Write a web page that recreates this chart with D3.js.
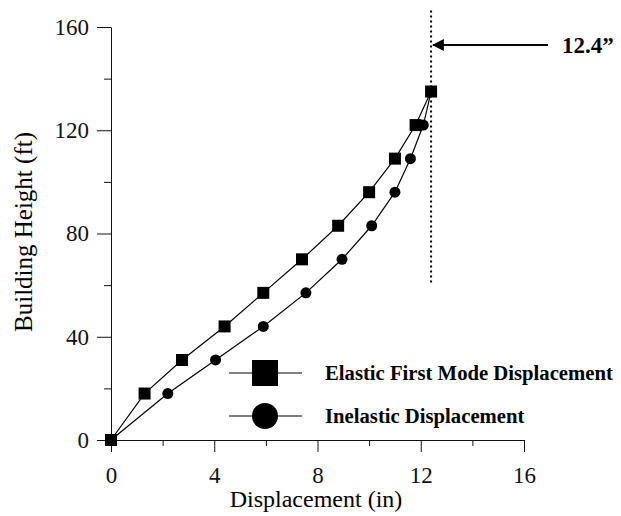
<!DOCTYPE html>
<html>
<head>
<meta charset="utf-8">
<script src="https://cdn.jsdelivr.net/npm/d3@7"></script>
<style>
  body { margin: 0; background: #fff; }
  svg { font-family: "Liberation Serif", "Times New Roman", serif; }
  .axis path, .axis line { stroke: #111; }
  .axis text { font-family: "Liberation Serif", "Times New Roman", serif; font-size: 23px; fill: #111; }
</style>
</head>
<body>
<svg id="chart" width="621" height="516"></svg>
<script>
// floor heights (ft)
var heights = [0, 18, 31, 44, 57, 70, 83, 96, 109, 122, 135];
// displacement (in) for each floor
var elastic   = [0, 1.3, 2.75, 4.4, 5.9, 7.4, 8.8, 10.0, 11.0, 11.8, 12.4];
var inelastic = [0, 2.2, 4.05, 5.9, 7.55, 8.95, 10.1, 11.0, 11.6, 12.1, 12.4];
var xTicks = [0, 4, 8, 12, 16];
var xMinor = [2, 6, 10, 14];
var yTicks = [0, 40, 80, 120, 160];
var yMinor = [20, 60, 100, 140];
var maxDisp = 12.4;
var markerLine = [61, 167]; // height span of dotted line
var seriesNames = ['Elastic First Mode Displacement', 'Inelastic Displacement'];

var svg = d3.select('#chart');

var x = d3.scaleLinear().domain([0, 16]).range([111, 524]);
var y = d3.scaleLinear().domain([0, 160]).range([440, 27]);

// --- axes
svg.append('g')
    .attr('class', 'axis')
    .attr('transform', 'translate(0,' + y(0) + ')')
    .call(d3.axisBottom(x).tickValues(xTicks).tickSize(12).tickSizeOuter(0))
    .call(function(g) { g.selectAll('text').attr('y', 43).attr('dy', 0); });
svg.append('g')
    .attr('class', 'axis')
    .attr('transform', 'translate(0,' + y(0) + ')')
    .call(d3.axisBottom(x).tickValues(xMinor).tickSize(6).tickFormat(''))
    .call(function(g) { g.select('.domain').remove(); });

svg.append('g')
    .attr('class', 'axis')
    .attr('transform', 'translate(' + x(0) + ',0)')
    .call(d3.axisLeft(y).tickValues(yTicks).tickSize(14).tickSizeOuter(0).tickPadding(8));
svg.append('g')
    .attr('class', 'axis')
    .attr('transform', 'translate(' + x(0) + ',0)')
    .call(d3.axisLeft(y).tickValues(yMinor).tickSize(7).tickFormat(''))
    .call(function(g) { g.select('.domain').remove(); });

// axis titles
svg.append('text')
    .attr('x', 316)
    .attr('y', 507)
    .attr('text-anchor', 'middle')
    .style('font-size', '24px')
    .text('Displacement (in)');

svg.append('text')
    .attr('transform', 'translate(32,232) rotate(-90)')
    .attr('text-anchor', 'middle')
    .style('font-size', '25px')
    .text('Building Height (ft)');

// --- dotted max line and annotation
svg.append('line')
    .attr('x1', x(maxDisp)).attr('x2', x(maxDisp))
    .attr('y1', y(markerLine[0])).attr('y2', y(markerLine[1]))
    .attr('stroke', '#000')
    .attr('stroke-width', 2)
    .attr('stroke-dasharray', '2,3');

svg.append('defs').append('marker')
    .attr('id', 'arrow')
    .attr('viewBox', '0 0 10 10')
    .attr('refX', 9).attr('refY', 5)
    .attr('markerWidth', 6).attr('markerHeight', 6)
    .attr('orient', 'auto')
  .append('path')
    .attr('d', 'M0,0 L10,5 L0,10 z')
    .attr('fill', '#000');

svg.append('line')
    .attr('x1', 548).attr('x2', x(maxDisp) + 2)
    .attr('y1', 45).attr('y2', 45)
    .attr('stroke', '#000')
    .attr('stroke-width', 2)
    .attr('marker-end', 'url(#arrow)');

svg.append('text')
    .attr('x', 562).attr('y', 53)
    .style('font-size', '23px')
    .style('font-weight', 'bold')
    .text(maxDisp + '\u201D');

// --- series
var line = d3.line()
    .x(function(d) { return x(d[0]); })
    .y(function(d) { return y(d[1]); });

var elasticPts = elastic.map(function(v, i) { return [v, heights[i]]; });
var inelasticPts = inelastic.map(function(v, i) { return [v, heights[i]]; });

svg.append('path')
    .datum(inelasticPts)
    .attr('d', line)
    .attr('fill', 'none')
    .attr('stroke', '#000')
    .attr('stroke-width', 1.2);

svg.append('path')
    .datum(elasticPts)
    .attr('d', line)
    .attr('fill', 'none')
    .attr('stroke', '#000')
    .attr('stroke-width', 1.2);

svg.selectAll('circle.pt')
    .data(inelasticPts.slice(1, -1))
    .enter().append('circle')
    .attr('class', 'pt')
    .attr('cx', function(d) { return x(d[0]); })
    .attr('cy', function(d) { return y(d[1]); })
    .attr('r', 5.5)
    .attr('fill', '#000');

svg.selectAll('rect.pt')
    .data(elasticPts)
    .enter().append('rect')
    .attr('class', 'pt')
    .attr('x', function(d) { return x(d[0]) - 6; })
    .attr('y', function(d) { return y(d[1]) - 6; })
    .attr('width', 12)
    .attr('height', 12)
    .attr('fill', '#000');

// --- legend
var legend = svg.append('g');
var legY = [373, 416];
legY.forEach(function(ly, i) {
  legend.append('line')
      .attr('x1', 229).attr('x2', 302)
      .attr('y1', ly).attr('y2', ly)
      .attr('stroke', '#000')
      .attr('stroke-width', 1.2);
  if (i === 0) {
    legend.append('rect')
        .attr('x', 265 - 13).attr('y', ly - 13)
        .attr('width', 26).attr('height', 26)
        .attr('fill', '#000');
  } else {
    legend.append('circle')
        .attr('cx', 265).attr('cy', ly)
        .attr('r', 13)
        .attr('fill', '#000');
  }
  legend.append('text')
      .attr('x', 325).attr('y', ly + 7)
      .style('font-size', '20.7px')
      .style('font-weight', 'bold')
      .text(seriesNames[i]);
});
</script>
</body>
</html>
